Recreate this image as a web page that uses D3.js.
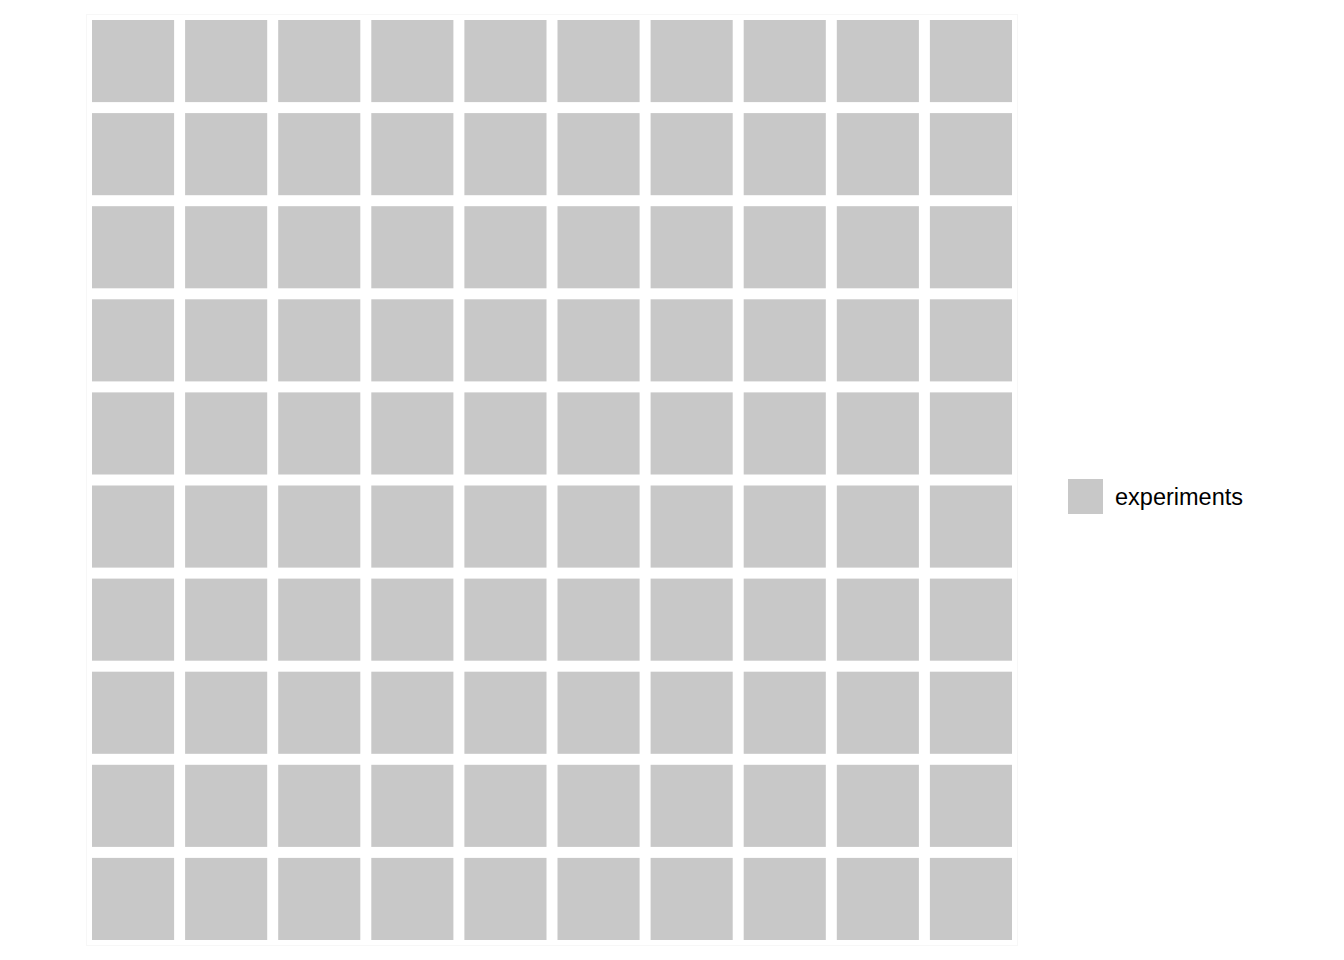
<!DOCTYPE html>
<html>
<head>
<meta charset="utf-8">
<script src="https://cdn.jsdelivr.net/npm/d3@7"></script>
<style>
  body { margin: 0; background: #fff; }
  svg { display: block; }
</style>
</head>
<body>
<svg id="chart"></svg>
<script>
// данные вафельной диаграммы
const categories = ["experiments"];
const counts = [100];
const colors = ["#c8c8c8"];
const nRows = 10;
const nCols = 10;

const width = 1344;
const height = 960;

let svg = d3.select("#chart").attr("width", width).attr("height", height);

// раскладываем клетки по категориям
let cells = [];
categories.forEach((cat, i) => {
    for (let k = 0; k < counts[i]; k++) cells.push({ cat: cat });
});
cells.forEach((d, i) => {
    d.col = i % nCols;
    d.row = Math.floor(i / nCols);
});

let scaleX = d3.scaleBand()
    .domain(d3.range(nCols))
    .range([86.5, 1017.5])
    .paddingInner(0.118)
    .paddingOuter(0.059);
let scaleY = d3.scaleBand()
    .domain(d3.range(nRows))
    .range([14.5, 945.5])
    .paddingInner(0.118)
    .paddingOuter(0.059);
let color = d3.scaleOrdinal().domain(categories).range(colors);

// рамка панели
svg.append("rect")
    .attr("x", 86.5)
    .attr("y", 14.5)
    .attr("width", 931)
    .attr("height", 931)
    .attr("fill", "none")
    .attr("stroke", "#f7f7f7")
    .attr("stroke-width", 1);

svg.selectAll(".tile")
    .data(cells)
    .enter()
    .append("rect")
    .attr("class", "tile")
    .attr("x", d => scaleX(d.col))
    .attr("y", d => scaleY(d.row))
    .attr("width", scaleX.bandwidth())
    .attr("height", scaleY.bandwidth())
    .attr("fill", d => color(d.cat));

// легенда
let legend = svg.append("g").attr("transform", "translate(1068, 479)");
categories.forEach((cat, i) => {
    let g = legend.append("g").attr("transform", `translate(0, ${i * 40})`);
    g.append("rect")
        .attr("width", 35)
        .attr("height", 35)
        .attr("fill", color(cat));
    g.append("text")
        .attr("x", 47)
        .attr("y", 26)
        .attr("font-family", "Liberation Sans, Arial, sans-serif")
        .attr("font-size", 23.5)
        .attr("fill", "#000")
        .text(cat);
});
</script>
</body>
</html>
